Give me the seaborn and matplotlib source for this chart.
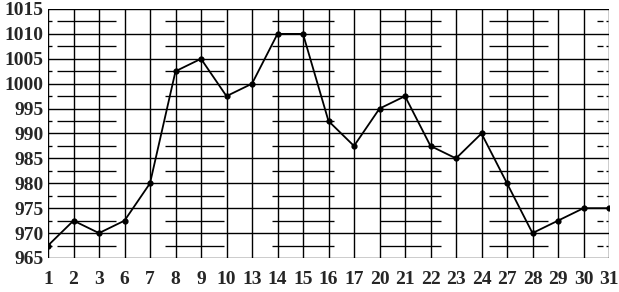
import matplotlib
matplotlib.use("Agg")
import matplotlib.pyplot as plt
import seaborn as sns
import pandas as pd

days = ["1", "2", "3", "6", "7", "8", "9", "10", "13", "14", "15", "16",
        "17", "20", "21", "22", "23", "24", "27", "28", "29", "30", "31"]
pressure = [967.5, 972.5, 970, 972.5, 980, 1002.5, 1005, 997.5, 1000, 1010, 1010, 992.5,
            987.5, 995, 997.5, 987.5, 985, 990, 980, 970, 972.5, 975, 975]
y_ticks = [965, 970, 975, 980, 985, 990, 995, 1000, 1005, 1010, 1015]

sns.set_style("white")
plt.rcParams["font.family"] = ["Liberation Serif", "DejaVu Serif"]

fig = plt.figure(figsize=(6.19, 2.92), dpi=100)
ax = fig.add_axes([48 / 619, 1 - 258 / 292, (609 - 48) / 619, (258 - 9) / 292])

df = pd.DataFrame({"day": days, "p": pressure})

n = len(days)
# grid
for yv in y_ticks:
    ax.axhline(yv, color="black", lw=1.0, zorder=1)
for i in range(n):
    ax.axvline(i, color="black", lw=1.0, zorder=1)
# half-step partial lines
segs = [(0, 0.15), (0.35, 2.67), (4.6, 6.9), (8.8, 11.2), (13.0, 15.4), (17.3, 19.6),
        (21.53, 21.76), (21.88, 21.98)]
for k in range(len(y_ticks) - 1):
    ym = (y_ticks[k] + y_ticks[k + 1]) / 2
    for a, b in segs:
        ax.plot([a, b], [ym, ym], color="black", lw=0.95, zorder=1, solid_capstyle="butt")

sns.pointplot(data=df, x="day", y="p", order=days, color="black",
              markers="o", markersize=3.5, linewidth=1.3, ax=ax, zorder=3)

ax.set_xlim(0, n - 1)
ax.set_ylim(965, 1015)
ax.set_yticks(y_ticks)
ax.set_yticklabels([str(v) for v in y_ticks])
ax.set_xticks(range(n))
ax.set_xticklabels(days)
ax.tick_params(length=0, labelsize=14)
ax.tick_params(axis="y", pad=3)
ax.tick_params(axis="x", pad=9)
for lab in ax.get_xticklabels() + ax.get_yticklabels():
    lab.set_fontweight("bold")
ax.set_xlabel("")
ax.set_ylabel("")
for s in ax.spines.values():
    s.set_visible(False)

fig.savefig("out.png", dpi=100)
